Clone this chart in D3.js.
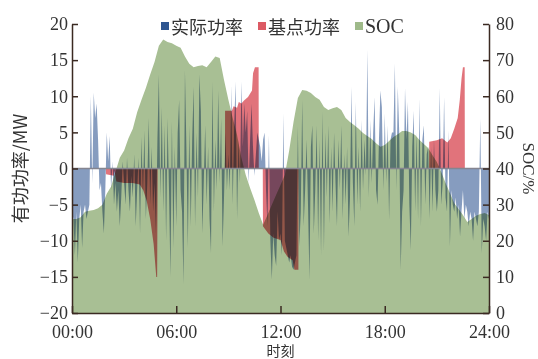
<!DOCTYPE html>
<html>
<head>
<meta charset="utf-8">
<script src="https://cdn.jsdelivr.net/npm/d3@7"></script>
<style>
  body { margin: 0; background: #fff; }
  svg text { font-family: "Liberation Serif", "Times New Roman", "Noto Sans CJK SC", serif; fill: #333; }
  .cjk { font-family: "Noto Sans CJK SC", sans-serif; }
  .axis path, .axis line { stroke: #3b2a22; stroke-width: 1.5; }
  .series { mix-blend-mode: multiply; }
</style>
</head>
<body>
<svg id="chart"></svg>
<script>
const w = 538, h = 359,
  m = { top: 24, right: 49, bottom: 46, left: 72 },
  colors = { actual: "#2e5590", base: "#dc5a64", soc: "#a8bf94" };

// x ticks (hours)
const hourTicks = [0, 6, 12, 18, 24];
const leftTicks = [-20, -15, -10, -5, 0, 5, 10, 15, 20];
const rightTicks = [0, 10, 20, 30, 40, 50, 60, 70, 80];
const legendNames = ["实际功率", "基点功率", "SOC"];

// SOC (%), every 15 min from 00:00 to 24:00
const socValues = [
  26, 26, 26.5, 28, 28.3, 28.5, 29, 30,
  33, 35, 39, 43, 45, 48.4, 51, 55.6,
  59, 62.3, 66, 69.5, 74, 75.7, 75, 74.7,
  74, 73.4, 71, 69, 68, 68.4, 68.6, 68,
  69.5, 71, 70.6, 64.5, 59, 54, 49.3, 43,
  38.2, 34.6, 31.3, 27.7, 24.4, 27.1, 30, 32.7,
  35.4, 38.2, 45, 52.9, 59.5, 61.7, 61.5, 60.9,
  59.8, 59, 57, 56.2, 56.7, 57, 56.2, 54,
  52.9, 52, 51, 49.8, 49, 48.2, 47, 46,
  46.5, 47.6, 48.7, 49.5, 50.4, 50.4, 50, 49.3,
  47.9, 46.8, 45.7, 43.7, 41.8, 39, 36, 33.2,
  30.4, 28.8, 27.1, 25.2, 26, 26.9, 27.4, 27.7,
  27.1
];

// base-point power (MW): [hour, value] breakpoints
const basePower = [
  [0, 0], [1.95, 0], [1.96, -0.8], [2.4, -1], [2.45, -0.3], [2.55, -1.8],
  [3.0, -2], [3.5, -2], [3.9, -2.2], [4.1, -3], [4.3, -4.5], [4.5, -7],
  [4.7, -10.5], [4.85, -15], [4.9, -15], [4.93, 0],
  [8.8, 0], [8.81, 8], [9.2, 8], [9.3, 8.6], [9.5, 8.4], [9.6, 9.2], [9.75, 9],
  [9.9, 9.4], [10.13, 9.9], [10.36, 10.8], [10.42, 13.2], [10.53, 14], [10.74, 14], [10.75, 0],
  [10.98, 0], [10.99, -8], [11.3, -9], [11.6, -9.6], [12.0, -9.9], [12.2, -11.5],
  [12.4, -12.2], [12.7, -12.7], [12.8, -14], [13.03, -14], [13.04, 0],
  [20.55, 0], [20.56, 3.7], [21.0, 3.9], [21.3, 4.2], [21.6, 3.6], [21.8, 4.2],
  [22.0, 5.5], [22.2, 7], [22.32, 9.5], [22.42, 12.5], [22.5, 14], [22.6, 14], [22.61, 0],
  [24, 0]
];

// actual power (MW), every 5 min, one row per hour
const actualPower = [
  -6, -7, -12, -6, -13, -7, -5, -11, -6, -5, -7, -6,
  -5, 10, -2, 10.5, 7, 9, 4, -3, -2, -6, -9, -3,
  5, 1, 4.5, -3, 1, -5, -2, -6, -3, -8, -4, 1,
  -2, -5, 1.5, -3, -6, -1, -4, 2, -8, -3, 1.5, -9,
  4.4, -4, 5.3, -7, -2, 7, -5, 3, -6, -2, -9, 4,
  13, -4, 8.5, -6, 6, -10, 7, -3, -15, 6.5, -11, 3,
  -8, 5, 9.5, -3, -6, -16, 13.6, 3, -11, 6, -8, 4,
  11.3, -8, 5, -4, 13, 8, -9, -2, 6, -5, 3, -7,
  -11.7, 12, -6, 4, -3, 10.8, -2, 7, -10.8, -4, 5, -3,
  2, -3, 11.5, -5, 6, 12, -7, 4, -2, 12, 3, 9,
  5, 8, -2, 4, 9, 3, -1, 2, 5, 4, 3, 1,
  4, 5, -3, -8, 4.6, -10, -15.4, -9, -12, -13.5, -6, -10,
  -9, -12, 7.6, -10, -11, -12, -13, -12, -13.6, -14, -13, -12,
  5.8, -10.8, -6, 9.5, -8, -3, 4, -5, -15.4, 3, 6, -9,
  -3, 6, -10, 4, -12, 7.9, -11.5, 5, -4, 6, -7.6, 3,
  -6, 5, -2, -8, 4, -3, 6, -7, 2, -5, 3, -9.4,
  -4, 11.3, -2, -8, 9.2, -5, 3, -6, 6.7, -3, 4, -1,
  16.4, -4, 6.7, -2, 5, 9.9, -3, -5, 4, 10.8, 8.5, -3,
  7.6, -2, 6, -7.1, 4, 5, 5, 14.5, -3, 11.3, 5, -14,
  -6, -3, 11.1, 4, 9.2, -5, -11.3, 3, 8, -6, 5, -7,
  9.7, -8, 4, 6, -5, 2, 3, -7, 3, -6, 4, -3,
  -6, -3, 11.1, -5, -2, 9.9, -4, -6, 5.3, -10.8, -3, -5,
  -6, -4, -7, -5, -9.4, -6, -3, -7, -5, -6, -8, -6,
  -7, -10, -6, -7, -8, -6, 6.9, -11.7, -7, -8, -10, -6,
  -7
];

const x = d3.scaleLinear().domain([0, 24]).range([m.left, w - m.right]);
const yL = d3.scaleLinear().domain([-20, 20]).range([h - m.bottom, m.top]);
const yR = d3.scaleLinear().domain([0, 80]).range([h - m.bottom, m.top]);

const svg = d3.select("#chart")
  .attr("width", w)
  .attr("height", h)
  .attr("viewBox", [0, 0, w, h]);

const plot = svg.append("g").style("isolation", "isolate");

// SOC area
plot.append("path")
  .attr("class", "series")
  .datum(socValues)
  .attr("fill", colors.soc)
  .attr("d", d3.area()
    .x((d, i) => x(i * 0.25))
    .y0(yR(0))
    .y1(d => yR(d)));

// actual power
plot.append("path")
  .attr("class", "series")
  .datum(actualPower)
  .attr("fill", colors.actual)
  .attr("fill-opacity", 0.58)
  .attr("d", d3.area()
    .x((d, i) => x(i / 12))
    .y0(yL(0))
    .y1(d => yL(d)));

// base-point power
plot.append("path")
  .attr("class", "series")
  .datum(basePower)
  .attr("fill", colors.base)
  .attr("fill-opacity", 0.85)
  .attr("d", d3.area()
    .x(d => x(d[0]))
    .y0(yL(0))
    .y1(d => yL(d[1])));

// zero line
svg.append("line")
  .attr("x1", x(0)).attr("x2", x(24))
  .attr("y1", yL(0)).attr("y2", yL(0))
  .attr("stroke", "#858590")
  .attr("stroke-width", 1.6);

// axes
const fontSize = 18;

svg.append("g")
  .attr("class", "axis")
  .attr("transform", `translate(${m.left},0)`)
  .call(d3.axisLeft(yL).tickValues(leftTicks).tickSizeInner(-6).tickSizeOuter(0).tickPadding(4))
  .call(g => g.selectAll("text").style("font-size", fontSize + "px"));

svg.append("g")
  .attr("class", "axis")
  .attr("transform", `translate(${w - m.right},0)`)
  .call(d3.axisRight(yR).tickValues(rightTicks).tickSizeInner(-6).tickSizeOuter(0).tickPadding(7))
  .call(g => g.selectAll("text").style("font-size", fontSize + "px"));

svg.append("g")
  .attr("class", "axis")
  .attr("transform", `translate(0,${h - m.bottom})`)
  .call(d3.axisBottom(x).tickValues(hourTicks)
    .tickFormat(d => String(d).padStart(2, "0") + ":00")
    .tickSizeInner(-7).tickSizeOuter(0).tickPadding(12))
  .call(g => g.selectAll("text").style("font-size", fontSize + "px"));

svg.selectAll(".axis text").attr("fill", "#333");

// axis titles
svg.append("text")
  .attr("class", "cjk")
  .attr("transform", `translate(19,${yL(0)}) rotate(-90)`)
  .attr("text-anchor", "middle")
  .attr("dominant-baseline", "central")
  .style("font-size", "18px")
  .text("有功功率/MW");

svg.append("text")
  .attr("transform", `translate(528,${yL(0)}) rotate(90)`)
  .attr("text-anchor", "middle")
  .attr("dominant-baseline", "central")
  .style("font-size", "17px")
  .text("SOC/%");

svg.append("text")
  .attr("class", "cjk")
  .attr("x", x(12))
  .attr("y", 350)
  .attr("text-anchor", "middle")
  .attr("dominant-baseline", "central")
  .style("font-size", "14px")
  .text("时刻");

// legend
const legendX = [161, 258, 355],
  legendColors = [colors.actual, colors.base, "#9fba8a"];

const legend = svg.append("g")
  .selectAll("g")
  .data(legendNames)
  .join("g")
  .attr("transform", (d, i) => `translate(${legendX[i]},26)`);

legend.append("rect")
  .attr("x", 0).attr("y", -4)
  .attr("width", 8).attr("height", 8)
  .attr("fill", (d, i) => legendColors[i]);

legend.append("text")
  .attr("class", (d, i) => i < 2 ? "cjk" : null)
  .attr("x", 10)
  .attr("dominant-baseline", "central")
  .style("font-size", (d, i) => i < 2 ? "18px" : "20px")
  .text(d => d);
</script>
</body>
</html>
